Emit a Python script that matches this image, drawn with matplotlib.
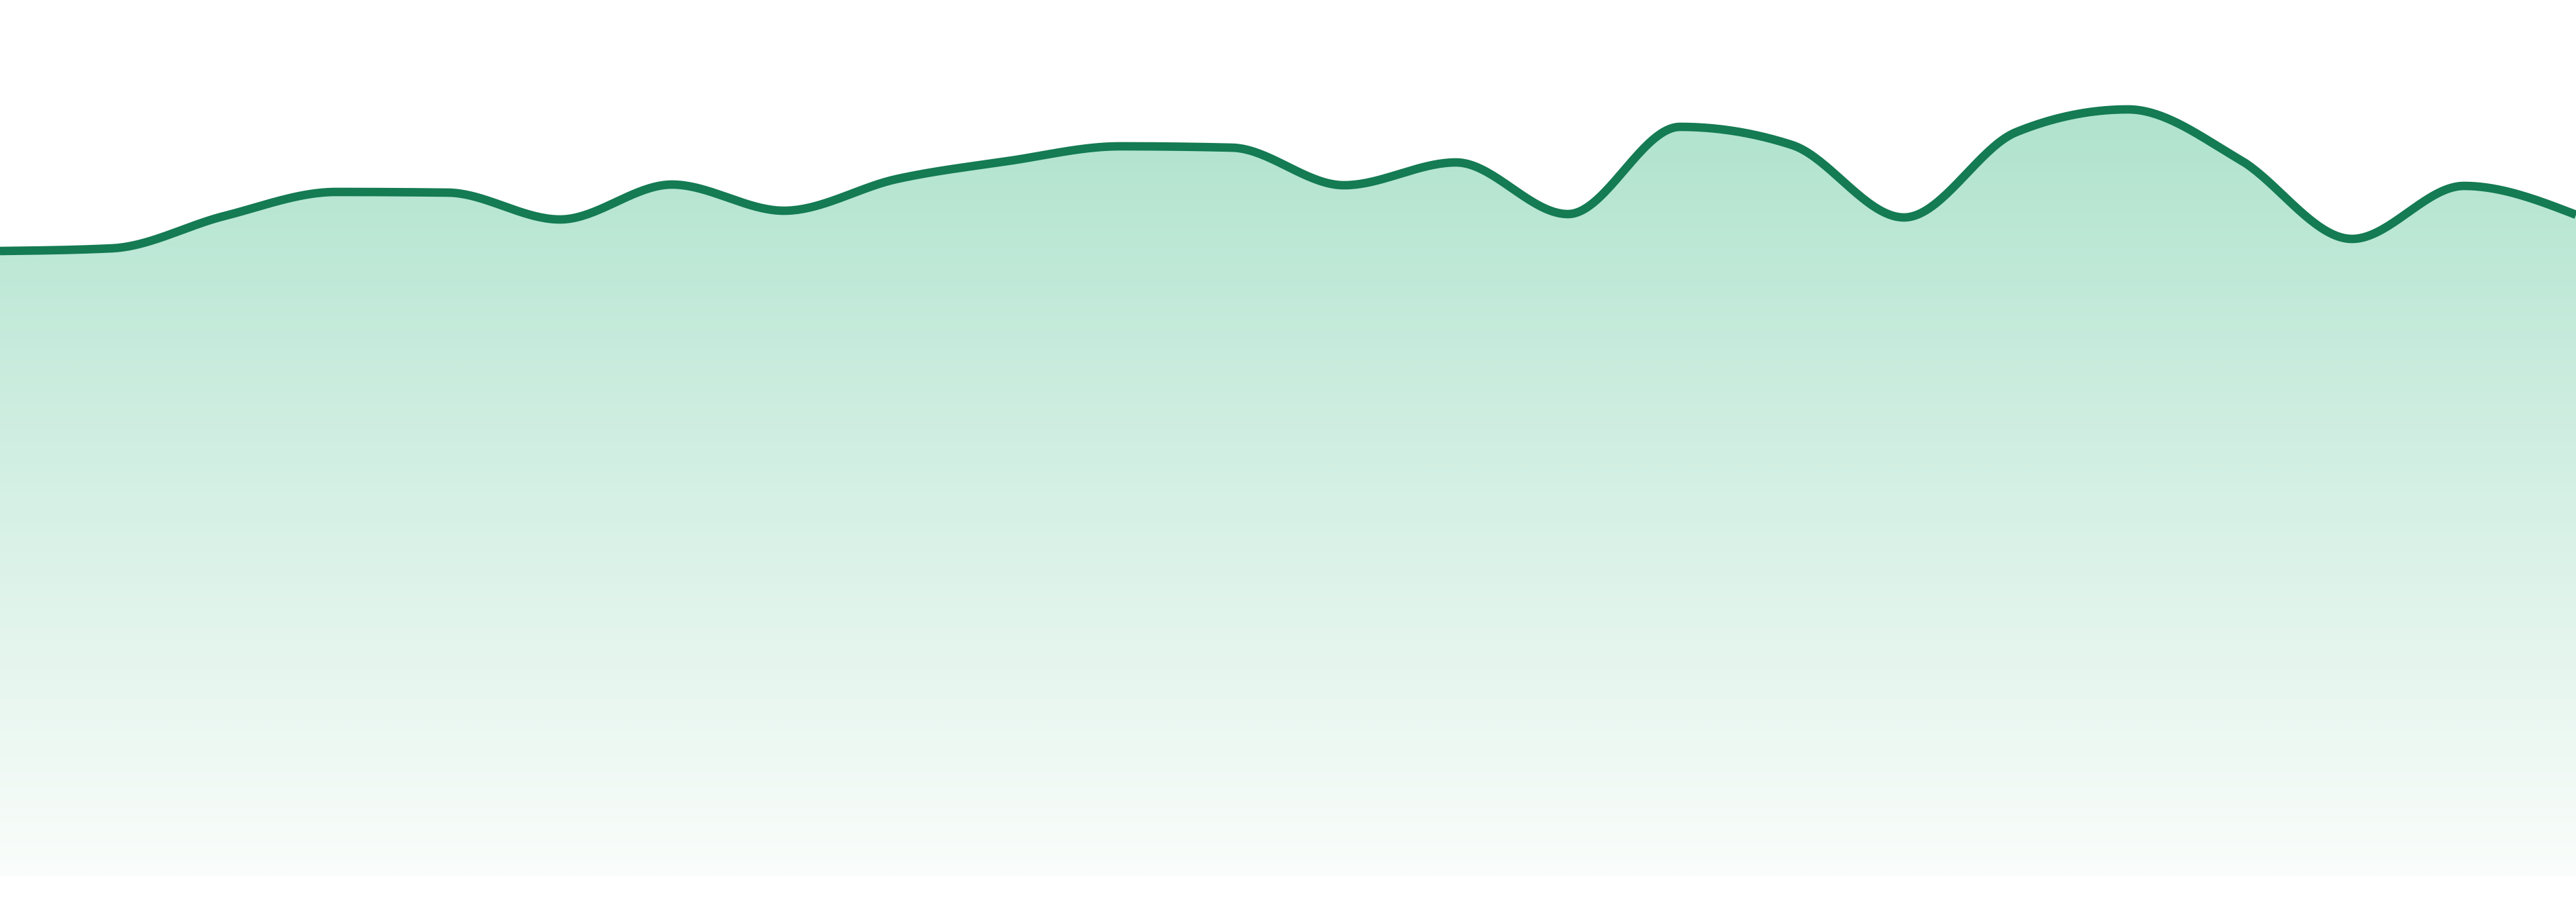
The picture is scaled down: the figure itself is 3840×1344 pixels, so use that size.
import numpy as np
import matplotlib
matplotlib.use("Agg")
import matplotlib.pyplot as plt
from matplotlib.colors import LinearSegmentedColormap
from matplotlib.patches import Polygon

# daily values (one per step)
steps = list(range(24))
values = [93.1, 93.5, 98.3, 101.9, 101.8, 97.8, 103.0, 99.1, 103.8, 106.5,
          108.7, 108.5, 102.9, 106.3, 98.6, 111.6, 108.9, 98.1, 110.8, 114.2,
          106.7, 94.9, 102.8, 98.5]

line_color = "#147b53"
fill_top = "#b0e3ce"
fill_bottom = "#fafdfb"


def monotone_x(xs, ys, n=40):
    # same idea as d3.curveMonotoneX (Steffen slopes, cubic bezier segments)
    xs = np.asarray(xs, float)
    ys = np.asarray(ys, float)
    h = np.diff(xs)
    s = np.diff(ys) / h
    t = np.zeros(len(xs))
    for i in range(1, len(xs) - 1):
        p = (s[i - 1] * h[i] + s[i] * h[i - 1]) / (h[i - 1] + h[i])
        t[i] = (np.sign(s[i - 1]) + np.sign(s[i])) * min(abs(s[i - 1]), abs(s[i]), 0.5 * abs(p))
    t[0] = (3 * s[0] - t[1]) / 2
    t[-1] = (3 * s[-1] - t[-2]) / 2
    px, py = [], []
    u = np.linspace(0, 1, n, endpoint=False)
    for i in range(len(xs) - 1):
        dx = h[i] / 3
        x0, x1, x2, x3 = xs[i], xs[i] + dx, xs[i + 1] - dx, xs[i + 1]
        y0, y1, y2, y3 = ys[i], ys[i] + dx * t[i], ys[i + 1] - dx * t[i + 1], ys[i + 1]
        a, b, c, d = (1 - u) ** 3, 3 * u * (1 - u) ** 2, 3 * u ** 2 * (1 - u), u ** 3
        px.extend(a * x0 + b * x1 + c * x2 + d * x3)
        py.extend(a * y0 + b * y1 + c * y2 + d * y3)
    px.append(xs[-1])
    py.append(ys[-1])
    return np.array(px), np.array(py)


cx, cy = monotone_x(steps, values)

fig = plt.figure(figsize=(38.4, 13.44), dpi=100)
ax = fig.add_axes([0, 0, 1, 1])
ax.set_xlim(0, 23)
ax.set_ylim(-3.9, 130.5)
ax.axis("off")

# gradient area under the curve
cmap = LinearSegmentedColormap.from_list("g", [fill_bottom, fill_top])
grad = np.linspace(0, 1, 512).reshape(-1, 1)
top = max(values)
img = ax.imshow(grad, cmap=cmap, origin="lower", aspect="auto",
                extent=[0, 23, 0, top], zorder=1)
poly = Polygon(np.column_stack([np.r_[cx, cx[-1], cx[0]], np.r_[cy, 0, 0]]),
               closed=True, facecolor="none", edgecolor="none")
ax.add_patch(poly)
img.set_clip_path(poly)

ax.plot(cx, cy, color=line_color, lw=9.1, solid_capstyle="butt",
        solid_joinstyle="round", zorder=2)

fig.savefig("out.png", dpi=100, facecolor="white")
